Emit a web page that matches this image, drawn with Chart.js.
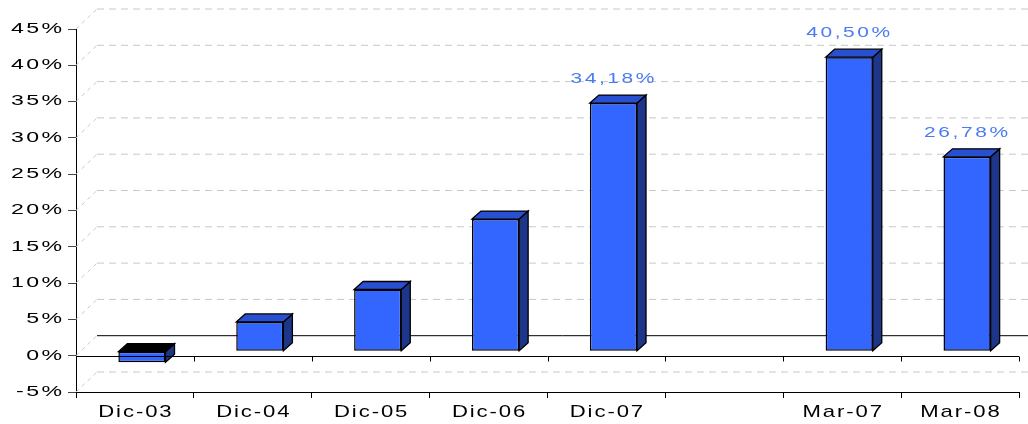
<!DOCTYPE html>
<html>
<head>
<meta charset="utf-8">
<script src="https://cdn.jsdelivr.net/npm/chart.js@4/dist/chart.umd.min.js"></script>
<style>
  html, body { margin: 0; padding: 0; background: #fff; }
  #wrap { width: 1028px; height: 424px; }
</style>
</head>
<body>
<div id="wrap"><canvas id="c" width="1028" height="424"></canvas></div>
<script>
  // data
  var categories = ['Dic-03', 'Dic-04', 'Dic-05', 'Dic-06', 'Dic-07', '', 'Mar-07', 'Mar-08'];
  var values = [-1.52, 4.03, 8.5, 18.2, 34.18, null, 40.50, 26.78];
  var valueLabels = ['', '', '', '', '34,18%', '', '40,50%', '26,78%'];
  var yMin = -5, yMax = 45, yStep = 5;

  var FONT = "'Liberation Sans', Arial, sans-serif";
  var WALL = { dx: 21, dy: -20 };   // back wall offset
  var BAR = { dx: 7, dy: -4.5 };    // bar row offset
  var DEPTH = { dx: 9, dy: -8 };    // bar depth

  /** fill text drawn wide, like the old Excel export */
  function wideText(ctx, str, x, y, size, sx, gap, align, color) {
    ctx.save();
    ctx.font = size + 'px ' + FONT;
    ctx.fillStyle = color;
    ctx.textAlign = align;
    ctx.textBaseline = 'middle';
    // trailing letter gap shifts aligned text, put it back
    if (align === 'right') x += gap;
    if (align === 'center') x += gap / 2;
    ctx.translate(x, y);
    ctx.scale(sx, 1);
    ctx.letterSpacing = (gap / sx) + 'px';
    ctx.fillText(str, 0, 0);
    ctx.restore();
  }

  function poly(ctx, pts, fill) {
    ctx.beginPath();
    ctx.moveTo(pts[0][0], pts[0][1]);
    for (var i = 1; i < pts.length; i++) ctx.lineTo(pts[i][0], pts[i][1]);
    ctx.closePath();
    ctx.fillStyle = fill;
    ctx.fill();
    ctx.lineWidth = 1.3;
    ctx.strokeStyle = '#000';
    ctx.stroke();
  }

  var box3d = {
    id: 'box3d',
    beforeDatasetsDraw: function(chart) {
      var ctx = chart.ctx, ys = chart.scales.y, area = chart.chartArea;
      ctx.save();
      ys.ticks.forEach(function(t) {
        var py = ys.getPixelForValue(t.value);
        // diagonal on the side wall
        ctx.strokeStyle = '#c8c8c8';
        ctx.lineWidth = 1;
        ctx.setLineDash([4, 4]);
        ctx.beginPath();
        ctx.moveTo(area.left, py);
        ctx.lineTo(area.left + WALL.dx, py + WALL.dy);
        ctx.stroke();
        // back wall line
        if (t.value === 0) {
          ctx.setLineDash([]);
          ctx.strokeStyle = '#000';
        } else {
          ctx.setLineDash([7, 5]);
          ctx.strokeStyle = '#c8c8c8';
        }
        ctx.beginPath();
        ctx.moveTo(area.left + WALL.dx, py + WALL.dy);
        ctx.lineTo(chart.width, py + WALL.dy);
        ctx.stroke();
      });
      ctx.restore();
      ctx.save();
      ctx.translate(BAR.dx, BAR.dy);
    },
    afterDatasetsDraw: function(chart) {
      var ctx = chart.ctx;
      var meta = chart.getDatasetMeta(0);
      meta.data.forEach(function(el, i) {
        if (values[i] == null) return;
        var p = el.getProps(['x', 'y', 'base', 'width'], true);
        var l = p.x - p.width / 2, r = p.x + p.width / 2;
        var top = Math.min(p.y, p.base), bot = Math.max(p.y, p.base);
        var neg = values[i] < 0;
        // side
        poly(ctx, [[r, top], [r + DEPTH.dx, top + DEPTH.dy], [r + DEPTH.dx, bot + DEPTH.dy], [r, bot]], '#1d3689');
        // top
        poly(ctx, [[l, top], [l + DEPTH.dx, top + DEPTH.dy], [r + DEPTH.dx, top + DEPTH.dy], [r, top]], neg ? '#000' : '#2a50d2');
      });
      ctx.restore();

      // front floor line at 0% with its ticks
      var ys = chart.scales.y, area = chart.chartArea;
      var y0 = Math.round(ys.getPixelForValue(0)) + 0.5;
      ctx.save();
      ctx.strokeStyle = '#000';
      ctx.lineWidth = 1;
      ctx.beginPath();
      ctx.moveTo(area.left, y0);
      ctx.lineTo(area.right, y0);
      var step = (area.right - area.left) / categories.length;
      for (var k = 1; k <= categories.length; k++) {
        var tx = Math.round(area.left + k * step) + 0.5;
        ctx.moveTo(tx, y0);
        ctx.lineTo(tx, y0 + 5);
      }
      ctx.stroke();
      ctx.restore();

      // value labels
      meta.data.forEach(function(el, i) {
        if (!valueLabels[i]) return;
        var p = el.getProps(['x', 'y'], true);
        wideText(ctx, valueLabels[i], p.x + BAR.dx - 1, p.y + BAR.dy - 24, 15.5, 1.35, 2.6, 'center', '#4a7bf2');
      });
    },
    afterDraw: function(chart) {
      var ctx = chart.ctx, ys = chart.scales.y, xs = chart.scales.x;
      ys.ticks.forEach(function(t, i) {
        wideText(ctx, t.label, 62, ys.getPixelForTick(i), 14, 1.65, 2.4, 'right', '#000');
      });
      xs.ticks.forEach(function(t, i) {
        var lbl = categories[t.value];
        if (lbl) wideText(ctx, lbl, xs.getPixelForTick(i), 412, 17, 1.3, 1.9, 'center', '#000');
      });
    }
  };

  new Chart(document.getElementById('c'), {
    type: 'bar',
    plugins: [box3d],
    data: {
      labels: categories,
      datasets: [{
        data: values,
        backgroundColor: '#3366ff',
        borderColor: '#000',
        borderWidth: 1.5,
        borderSkipped: false,
        categoryPercentage: 1,
        barPercentage: 0.4
      }]
    },
    options: {
      responsive: false,
      animation: false,
      events: [],
      layout: { padding: { top: 29, right: 9, left: 0, bottom: 0 } },
      plugins: { legend: { display: false }, tooltip: { enabled: false } },
      scales: {
        x: {
          grid: { display: true, drawOnChartArea: false, offset: true, tickLength: 6, color: '#000' },
          border: { display: true, color: '#000', width: 1 },
          ticks: { display: false, autoSkip: false },
          afterFit: function(s) { s.height = 32; }
        },
        y: {
          min: yMin,
          max: yMax,
          grid: { display: true, drawOnChartArea: false, tickLength: 8, color: '#444' },
          border: { display: true, color: '#000', width: 1 },
          ticks: {
            display: false,
            stepSize: yStep,
            callback: function(v) { return v + '%'; }
          },
          afterFit: function(s) { s.width = 76; }
        }
      }
    }
  });
</script>
</body>
</html>
